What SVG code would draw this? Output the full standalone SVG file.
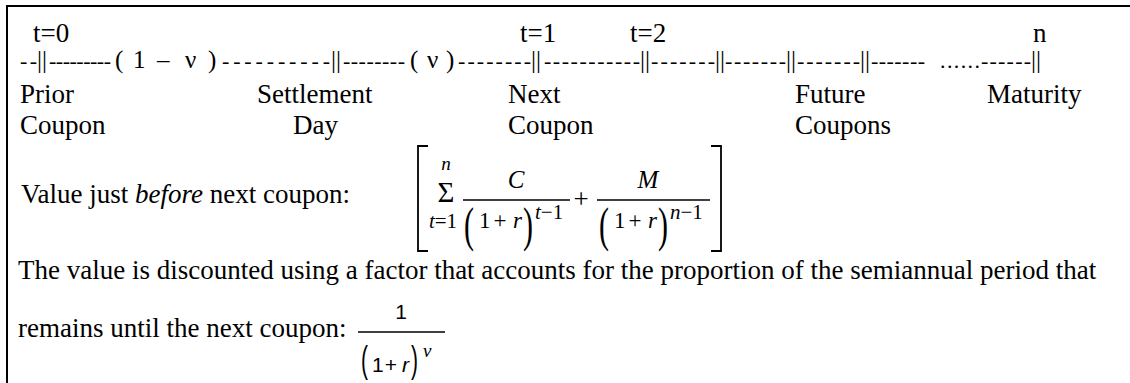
<svg xmlns="http://www.w3.org/2000/svg" width="1130" height="383" viewBox="0 0 1130 383">
<style>
 text{font-family:"Liberation Serif","Times New Roman",serif;fill:#000}
 .b{font-size:27px}
 .tl{font-size:25px}
 .dash{font-size:22px}
 .i{font-style:italic}
 .sans{font-family:"Liberation Sans",Arial,sans-serif}
 .ln{stroke:#000;fill:none}
 .den{font-size:23px}
</style>
<rect width="1130" height="383" fill="#fff"/>
<g id="frame"><path class="ln" d="M7 383V6H1130" stroke-width="2"/></g>

<g id="timeline">
 <text class="dash" y="68">
  <tspan x="20" textLength="17">--</tspan>
  <tspan x="49" textLength="62">---------</tspan>
  <tspan x="222" textLength="108">----------</tspan>
  <tspan x="343" textLength="62">--------</tspan>
  <tspan x="458" textLength="73">--------</tspan>
  <tspan x="544" textLength="96">-----------</tspan>
  <tspan x="651" textLength="64">-------</tspan>
  <tspan x="725" textLength="61">-------</tspan>
  <tspan x="797" textLength="63">-------</tspan>
  <tspan x="871" textLength="54">-------</tspan>
  <tspan x="940" textLength="40">......</tspan>
  <tspan x="981" textLength="50">------</tspan>
 </text>
 <text class="tl" y="68">
  <tspan x="37">||</tspan>
  <tspan x="331">||</tspan>
  <tspan x="531">||</tspan>
  <tspan x="640">||</tspan>
  <tspan x="715">||</tspan>
  <tspan x="786">||</tspan>
  <tspan x="860">||</tspan>
  <tspan x="1031">||</tspan>
  <tspan x="115">(</tspan>
  <tspan x="133">1</tspan>
  <tspan x="157">–</tspan>
  <tspan x="185">ν</tspan>
  <tspan x="208">)</tspan>
  <tspan x="410">(</tspan>
  <tspan x="427">ν</tspan>
  <tspan x="446">)</tspan>
 </text>
</g>

<g id="time-labels">
 <text class="b" x="33" y="42">t=0</text>
 <text class="b" x="520" y="42">t=1</text>
 <text class="b" x="630" y="42">t=2</text>
 <text class="b" x="1033" y="42">n</text>
</g>

<g id="prior-coupon"><text class="b" x="20" y="103">Prior</text><text class="b" x="20" y="134">Coupon</text></g>
<g id="settlement-day"><text class="b" x="257" y="103">Settlement</text><text class="b" x="293" y="134">Day</text></g>
<g id="next-coupon"><text class="b" x="508" y="103">Next</text><text class="b" x="508" y="134">Coupon</text></g>
<g id="future-coupons"><text class="b" x="795" y="103">Future</text><text class="b" x="795" y="134">Coupons</text></g>
<g id="maturity"><text class="b" x="987" y="103">Maturity</text></g>

<g id="value-before">
 <text class="b" x="21" y="203">Value just <tspan class="i">before</tspan> next coupon:</text>
</g>

<g id="formula-sum">
 <path class="ln" stroke-width="1.8" d="M428 146H418V251H428M711 146H721V251H711"/>
 <text x="446" y="170" font-size="19" class="i" text-anchor="middle">n</text>
 <text x="446" y="202" font-size="29" text-anchor="middle">Σ</text>
 <text x="443" y="228" font-size="21" text-anchor="middle"><tspan class="i">t</tspan>=1</text>
 <text x="516" y="188" font-size="25" class="i" text-anchor="middle">C</text>
 <path class="ln" stroke-width="1.3" d="M463 200H570M597 200H710"/>
 <text transform="translate(464,241) scale(1,1.65)" font-size="30">(</text>
 <text class="den" x="479" y="228">1</text>
 <text class="den" x="500" y="228" text-anchor="middle">+</text>
 <text class="den i" x="513" y="228">r</text>
 <text transform="translate(523,241) scale(1,1.65)" font-size="30">)</text>
 <text x="535" y="219" font-size="21"><tspan class="i">t</tspan>−1</text>
 <text x="581" y="208" font-size="27" text-anchor="middle">+</text>
 <text x="648" y="188" font-size="25" class="i" text-anchor="middle">M</text>
 <text transform="translate(599,241) scale(1,1.65)" font-size="30">(</text>
 <text class="den" x="614" y="228">1</text>
 <text class="den" x="635" y="228" text-anchor="middle">+</text>
 <text class="den i" x="648" y="228">r</text>
 <text transform="translate(658,241) scale(1,1.65)" font-size="30">)</text>
 <text x="670" y="219" font-size="21"><tspan class="i">n</tspan>−1</text>
</g>

<g id="discount-text">
 <text class="b" x="18" y="279">The value is discounted using a factor that accounts for the proportion of the semiannual period that</text>
 <text class="b" x="18" y="337">remains until the next coupon:</text>
</g>

<g id="formula-discount">
 <text class="sans" x="401" y="319" font-size="21" text-anchor="middle">1</text>
 <path class="ln" stroke-width="1.3" d="M358 332H445"/>
 <text class="sans" transform="translate(361,372) scale(1,1.8)" font-size="21">(</text>
 <text class="sans" x="372" y="372" font-size="21">1</text>
 <text class="sans" x="391" y="372" font-size="21" text-anchor="middle">+</text>
 <text class="sans i" x="402" y="372" font-size="21">r</text>
 <text class="sans" transform="translate(411,372) scale(1,1.8)" font-size="21">)</text>
 <text x="423" y="357" font-size="19" class="i">ν</text>
</g>
</svg>
